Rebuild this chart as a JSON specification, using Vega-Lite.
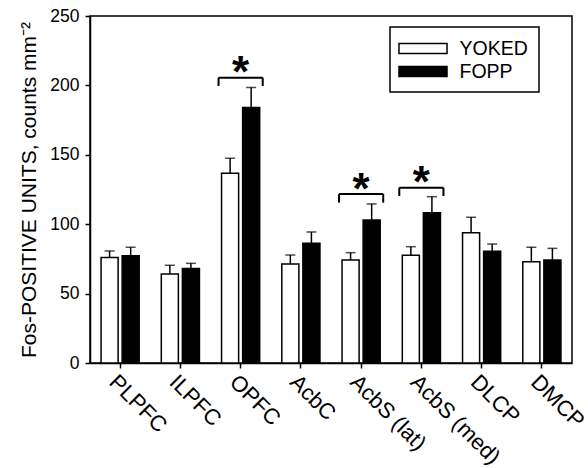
{
  "$schema": "https://vega.github.io/schema/vega-lite/v6.json",
  "width": 482,
  "height": 347,
  "autosize": {"type": "none"},
  "padding": {"left": 90, "top": 16, "right": 16, "bottom": 105},
  "background": "white",
  "config": {
    "font": "Liberation Sans",
    "view": {"stroke": "black", "strokeWidth": 1.5},
    "axis": {
      "domainColor": "black", "domainWidth": 1.5, "tickColor": "black", "tickWidth": 1.5,
      "labelColor": "black", "titleColor": "black", "grid": false,
      "labelFont": "Liberation Sans", "titleFont": "Liberation Sans", "titleFontWeight": "normal"
    },
    "legend": {
      "orient": "none", "legendX": 300, "legendY": 11,
      "strokeColor": "black", "strokeWidth": 1.5, "padding": 11,
      "symbolType": "M-2.5,-0.52H2.5V0.52H-2.5Z", "symbolSize": 369,
      "symbolStrokeColor": "black", "symbolStrokeWidth": 1.5,
      "symbolOffset": 11.5, "labelOffset": 26,
      "labelFont": "Liberation Sans", "labelFontSize": 19.5, "labelColor": "black",
      "rowPadding": 3
    }
  },
  "datasets": {
    "bars": [
      {"region": "PLPFC", "group": "YOKED", "value": 76, "hi": 80.7},
      {"region": "PLPFC", "group": "FOPP", "value": 77.3, "hi": 83.4},
      {"region": "ILPFC", "group": "YOKED", "value": 64.1, "hi": 70.4},
      {"region": "ILPFC", "group": "FOPP", "value": 68, "hi": 71.8},
      {"region": "OPFC", "group": "YOKED", "value": 136.7, "hi": 147.5},
      {"region": "OPFC", "group": "FOPP", "value": 184, "hi": 198.5},
      {"region": "AcbC", "group": "YOKED", "value": 71.3, "hi": 77.8},
      {"region": "AcbC", "group": "FOPP", "value": 86.2, "hi": 94.4},
      {"region": "AcbS (lat)", "group": "YOKED", "value": 74.2, "hi": 79.5},
      {"region": "AcbS (lat)", "group": "FOPP", "value": 103, "hi": 114.6},
      {"region": "AcbS (med)", "group": "YOKED", "value": 77.6, "hi": 83.8},
      {"region": "AcbS (med)", "group": "FOPP", "value": 108.3, "hi": 119.8},
      {"region": "DLCP", "group": "YOKED", "value": 93.9, "hi": 105},
      {"region": "DLCP", "group": "FOPP", "value": 80.5, "hi": 85.7},
      {"region": "DMCP", "group": "YOKED", "value": 73, "hi": 83.4},
      {"region": "DMCP", "group": "FOPP", "value": 74.2, "hi": 82.6}
    ],
    "brackets": [
      {"region": "OPFC", "top": 205.5, "bottom": 199.6, "star": 215.4},
      {"region": "AcbS (lat)", "top": 121.8, "bottom": 115.5, "star": 131.3},
      {"region": "AcbS (med)", "top": 126.3, "bottom": 120.3, "star": 136.2}
    ]
  },
  "layer": [
    {
      "data": {"name": "bars"},
      "mark": {"type": "bar", "stroke": "black", "strokeWidth": 1.5},
      "encoding": {
        "x": {
          "field": "region", "type": "nominal",
          "scale": {"domain": ["PLPFC", "ILPFC", "OPFC", "AcbC", "AcbS (lat)", "AcbS (med)", "DLCP", "DMCP"], "paddingInner": 0.267, "paddingOuter": 0.1335},
          "axis": {"title": null, "labelAngle": 45, "labelFontSize": 22, "tickSize": 5, "labelPadding": 3}
        },
        "xOffset": {"field": "group", "type": "nominal", "scale": {"domain": ["YOKED", "FOPP"], "paddingInner": 0.19, "paddingOuter": 0.143}},
        "y": {
          "field": "value", "type": "quantitative",
          "scale": {"domain": [0, 250], "nice": false},
          "axis": {"title": "Fos-POSITIVE UNITS, counts mm⁻²", "titleFontSize": 21, "labelFontSize": 17.5, "tickSize": 5, "labelPadding": 6, "values": [0, 50, 100, 150, 200, 250], "titlePadding": 10}
        },
        "color": {
          "field": "group", "type": "nominal",
          "scale": {"domain": ["YOKED", "FOPP"], "range": ["white", "black"]},
          "legend": {"title": null, "labelExpr": "datum.label + '\u00a0\u00a0\u00a0'"}
        }
      }
    },
    {
      "data": {"name": "bars"},
      "mark": {"type": "rule", "color": "black", "strokeWidth": 1.5},
      "encoding": {
        "x": {"field": "region", "type": "nominal"},
        "xOffset": {"field": "group", "type": "nominal"},
        "y": {"field": "value", "type": "quantitative"},
        "y2": {"field": "hi"}
      }
    },
    {
      "data": {"name": "bars"},
      "mark": {"type": "tick", "color": "black", "size": 10, "thickness": 1.5, "orient": "horizontal"},
      "encoding": {
        "x": {"field": "region", "type": "nominal"},
        "xOffset": {"field": "group", "type": "nominal"},
        "y": {"field": "hi", "type": "quantitative"}
      }
    },
    {
      "data": {"name": "brackets"},
      "mark": {"type": "rule", "color": "black", "strokeWidth": 2},
      "encoding": {
        "x": {"field": "region", "type": "nominal", "bandPosition": 0},
        "x2": {"field": "region", "bandPosition": 1},
        "y": {"field": "top", "type": "quantitative"}
      }
    },
    {
      "data": {"name": "brackets"},
      "mark": {"type": "rule", "color": "black", "strokeWidth": 2},
      "encoding": {
        "x": {"field": "region", "type": "nominal", "bandPosition": 0},
        "y": {"field": "top", "type": "quantitative"},
        "y2": {"field": "bottom"}
      }
    },
    {
      "data": {"name": "brackets"},
      "mark": {"type": "rule", "color": "black", "strokeWidth": 2},
      "encoding": {
        "x": {"field": "region", "type": "nominal", "bandPosition": 1},
        "y": {"field": "top", "type": "quantitative"},
        "y2": {"field": "bottom"}
      }
    },
    {
      "data": {"name": "brackets"},
      "mark": {"type": "text", "text": "*", "fontSize": 44, "fontWeight": "bold", "color": "black", "baseline": "middle", "dy": 10},
      "encoding": {
        "x": {"field": "region", "type": "nominal"},
        "y": {"field": "star", "type": "quantitative"}
      }
    }
  ]
}
